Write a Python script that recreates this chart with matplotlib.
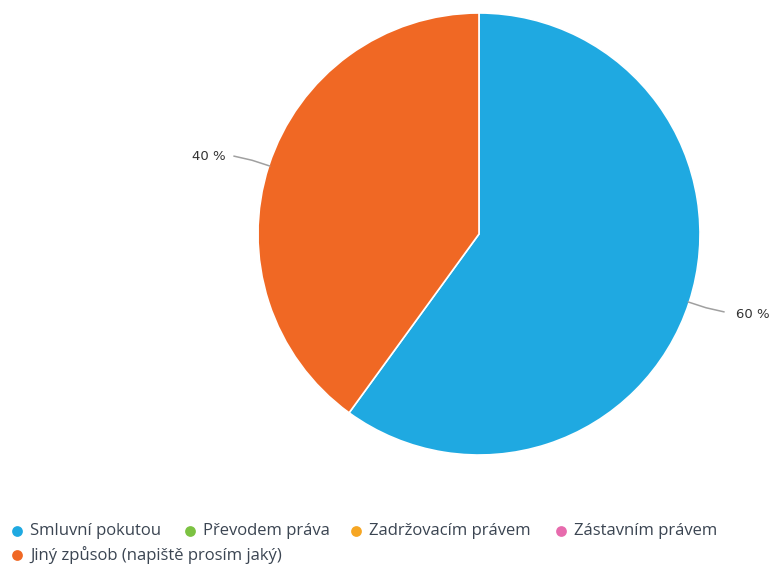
import matplotlib
matplotlib.use("Agg")
import matplotlib.pyplot as plt
import numpy as np

categories = ["Smluvní pokutou", "Převodem práva", "Zadržovacím právem",
              "Zástavním právem", "Jiný způsob (napiště prosím jaký)"]
values = [60, 0, 0, 0, 40]
colors = ["#1fa9e1", "#7cc242", "#f6a623", "#e76bad", "#f06824"]
value_labels = ["60 %", "", "", "", "40 %"]

W, H = 773, 568
fig = plt.figure(figsize=(W / 100, H / 100), dpi=100)
fig.patch.set_facecolor("white")

# pie axes: center (479,234), radius 221 px
cx, cy, r = 479, 234, 221
ax = fig.add_axes([(cx - r) / W, 1 - (cy + r) / H, 2 * r / W, 2 * r / H])
ax.set_xlim(-1, 1)
ax.set_ylim(-1, 1)
ax.set_aspect("equal")
ax.axis("off")

nz = [i for i, v in enumerate(values) if v > 0]
wedges, _ = ax.pie([values[i] for i in nz], colors=[colors[i] for i in nz],
                   startangle=90, counterclock=False, radius=1,
                   wedgeprops=dict(edgecolor="white", linewidth=1.2))
ax.set_xlim(-1, 1)
ax.set_ylim(-1, 1)

for w, i in zip(wedges, nz):
    ang = np.deg2rad((w.theta1 + w.theta2) / 2)
    x0, y0 = np.cos(ang) * 0.995, np.sin(ang) * 0.995
    side = 1 if x0 > 0 else -1
    vs = 1 if y0 > 0 else -1
    xm, ym = np.cos(ang) * 1.08, np.sin(ang) * 1.08
    x2 = x0 + side * 0.163
    y2 = y0 + vs * 0.045
    ax.plot([x0, xm, x2], [y0, ym, y2], color="#a0a0a0", lw=1.1,
            clip_on=False, solid_capstyle="round")
    ax.text(x2 + side * (0.055 if side > 0 else 0.035), y2 + (0.0 if side < 0 else -0.01),
            value_labels[i], ha="left" if side > 0 else "right",
            va="center", fontsize=9.5, color="#333333", family="DejaVu Sans")

# legend (Highcharts-like flowing layout)
lax = fig.add_axes([0, 0, 1, 1])
lax.set_xlim(0, W)
lax.set_ylim(H, 0)
lax.axis("off")
leg_x = [17, 190, 356, 561, 17]
leg_y = [531, 531, 531, 531, 555]
for name, col, lx, ly in zip(categories, colors, leg_x, leg_y):
    lax.scatter([lx], [ly], s=60, color=col, zorder=3, linewidths=0)
    lax.text(lx + 13, ly, name, va="center", ha="left", fontsize=12,
             color="#3b4552", family="Open Sans")

fig.savefig("out.png", dpi=100, facecolor="white")
